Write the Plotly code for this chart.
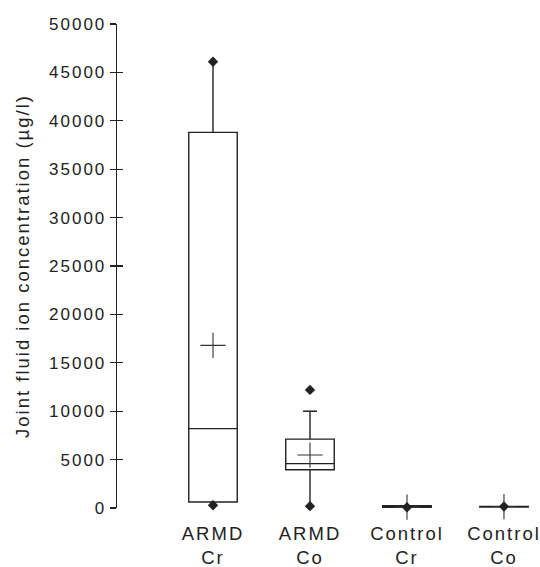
import plotly.graph_objects as go

# ---- data ----
categories = ["ARMD<br>Cr", "ARMD<br>Co", "Control<br>Cr", "Control<br>Co"]
q1_vals = [620, 3950, 20, 100]
median_vals = [8200, 4580, 60, 130]
q3_vals = [38800, 7120, 250, 160]
lower_whisker = [280, 190, 0, 60]
upper_whisker = [46100, 10000, 400, 300]
mean_vals = [16800, 5470, 90, 150]
# min / max / outlier points drawn as markers
point_cats = ["ARMD<br>Cr", "ARMD<br>Cr", "ARMD<br>Co", "ARMD<br>Co", "Control<br>Cr", "Control<br>Co"]
point_vals = [46100, 280, 12200, 190, 70, 150]
# whisker caps shown only where the reference draws one
cap_cats = ["ARMD<br>Co"]
cap_vals = [10000]

y_ticks = [0, 5000, 10000, 15000, 20000, 25000, 30000, 35000, 40000, 45000, 50000]
y_tick_labels = ["0", "5000", "10000", "15000", "20000", "25000",
                 "30000", "35000", "40000", "45000", "50000"]

INK = "#222222"
FONT = "Liberation Sans, Arial, sans-serif"

fig = go.Figure()

fig.add_trace(go.Box(
    x=categories, q1=q1_vals, median=median_vals, q3=q3_vals,
    lowerfence=lower_whisker, upperfence=upper_whisker,
    width=0.5, whiskerwidth=0, boxpoints=False,
    fillcolor="white", line=dict(color=INK, width=1.4),
    showlegend=False, hoverinfo="skip",
))

fig.add_trace(go.Scatter(
    x=cap_cats, y=cap_vals, mode="markers",
    marker=dict(symbol="line-ew", size=10, line=dict(color=INK, width=1.5)),
    showlegend=False, hoverinfo="skip", cliponaxis=False,
))

fig.add_trace(go.Scatter(
    x=categories, y=mean_vals, mode="markers",
    marker=dict(symbol="cross-thin", size=18, line=dict(color="#333333", width=1.1)),
    showlegend=False, hoverinfo="skip", cliponaxis=False,
))

fig.add_trace(go.Scatter(
    x=point_cats, y=point_vals, mode="markers",
    marker=dict(symbol="diamond", size=8, color=INK, line=dict(width=0)),
    showlegend=False, hoverinfo="skip", cliponaxis=False,
))

# invisible trace on overlay axis (for inward half of the crossing ticks)
fig.add_trace(go.Scatter(x=[categories[0]], y=[0], yaxis="y2", mode="markers",
                         marker=dict(opacity=0), showlegend=False, hoverinfo="skip"))

fig.update_layout(
    width=540, height=567,
    margin=dict(l=117, r=5, t=24, b=59, autoexpand=False),
    paper_bgcolor="white", plot_bgcolor="white",
    font=dict(family=FONT, color=INK),
    xaxis=dict(
        type="category", range=[-0.99, 3.32], automargin=False,
        showline=False, showgrid=False, zeroline=False, ticks="",
        tickfont=dict(size=18.5, color=INK), ticklabelstandoff=12,
    ),
    yaxis=dict(
        range=[0, 50000], tickmode="array", tickvals=y_ticks, ticktext=y_tick_labels,
        automargin=False,
        showline=True, linecolor=INK, linewidth=1.3,
        showgrid=False, zeroline=False,
        ticks="outside", ticklen=6, tickwidth=1.3, tickcolor=INK,
        tickfont=dict(size=17, color=INK),
        title=dict(text="Joint fluid ion concentration (µg/l)",
                   font=dict(size=18.5, color=INK), standoff=24),
    ),
    yaxis2=dict(
        overlaying="y", side="left", range=[0, 50000], automargin=False,
        tickmode="array", tickvals=y_ticks,
        showline=False, showgrid=False, zeroline=False,
        ticks="inside", ticklen=6, tickwidth=1.3, tickcolor=INK,
        showticklabels=False,
    ),
)

spacing_js = (
    "document.body.style.margin='0';"
    "var gd=document.getElementById('{plot_id}');"
    "function sp(){gd.querySelectorAll('.xtick text, .ytick text, .ytitle').forEach("
    "function(t){t.style.letterSpacing='2px';});}"
    "sp(); gd.on('plotly_afterplot', sp);"
)

fig.write_html("out.html", post_script=spacing_js,
               config={"displayModeBar": False, "staticPlot": True})
